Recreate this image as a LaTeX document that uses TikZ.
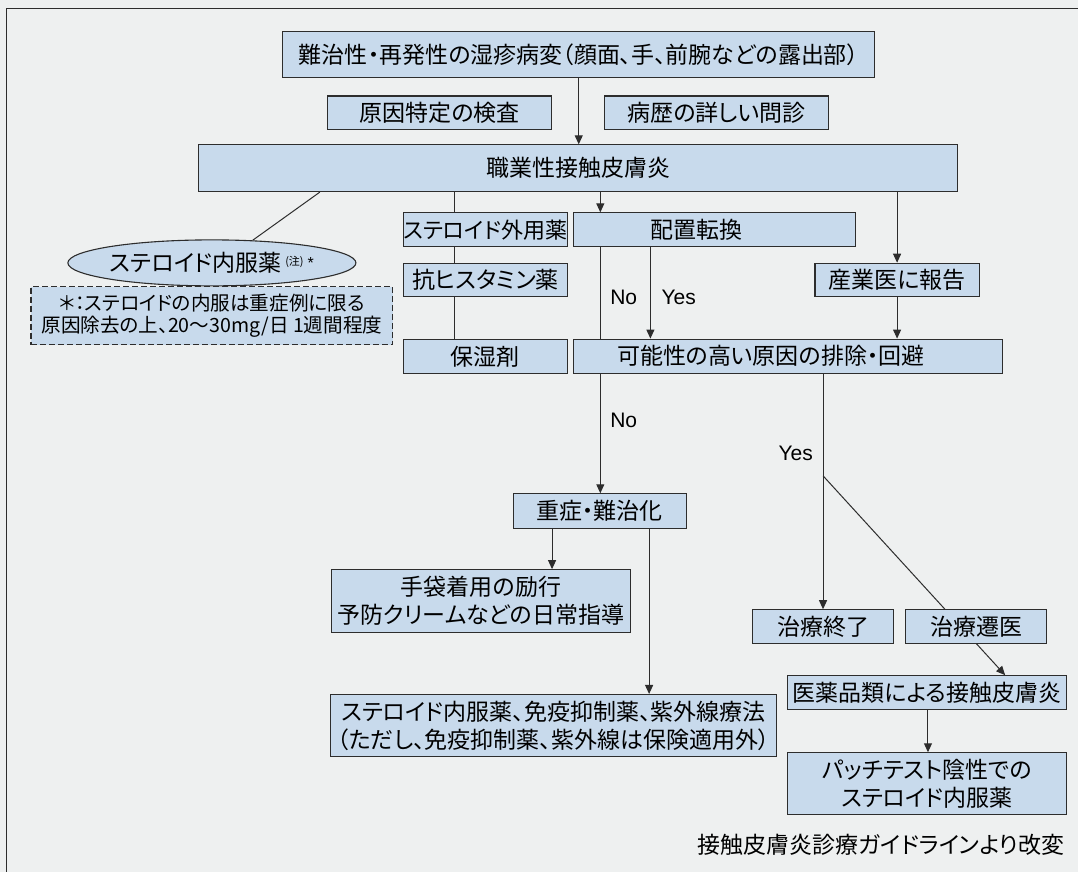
\documentclass[tikz,border=0pt]{standalone}
\usepackage{fontspec}
\setmainfont{Noto Sans CJK JP}[RawFeature=+palt]
\newfontfamily\latfont{Liberation Sans}
\usetikzlibrary{arrows.meta,shapes.geometric,calc}
\definecolor{pagebg}{RGB}{238,240,240}
\definecolor{boxblue}{RGB}{200,218,236}
\definecolor{ink}{RGB}{45,45,45}
\pgfdeclarelayer{back}
\pgfdeclarelayer{edges}
\pgfsetlayers{back,edges,main}
\tikzset{
  flowbox/.style={draw=ink, fill=boxblue, line width=1.1pt, inner sep=0pt, align=center,
    font=\fontsize{23}{28}\selectfont},
  sz/.style 2 args={minimum width=#1pt, minimum height=#2pt},
  conn/.style={draw=ink, line width=1pt},
  arr/.style={conn, -{Triangle[length=9pt,width=8pt]}},
  yn/.style={font=\latfont\fontsize{21}{21}\selectfont, text=black, inner sep=0pt},
}
\begin{document}
\begin{tikzpicture}[x=1pt,y=-1pt]
\begin{pgfonlayer}{back}
  \fill[pagebg] (0,0) rectangle (1078,872);
  \draw[ink, line width=1pt] (7,872) -- (7,8.5) -- (1078,8.5);
\end{pgfonlayer}
\useasboundingbox (0,0) rectangle (1078,872);

% column coordinates
\coordinate (cL) at (454.5,0);
\coordinate (cS) at (320,0);
\coordinate (cN) at (600.6,0);
\coordinate (cY) at (650.7,0);
\coordinate (cR) at (897.5,0);
\coordinate (cE) at (823.4,0);
\coordinate (cT) at (552.3,0);
\coordinate (cU) at (649.4,0);
\coordinate (cP) at (928.4,0);
\coordinate (cD) at (1005.6,0);

% boxes
\node[flowbox, sz={592}{45.6}] (top) at (579,54.5) {難治性・再発性の湿疹病変（顔面、手、前腕などの露出部）};
\node[flowbox, sz={224}{33.3}] (gen) at (440,112.7) {原因特定の検査};
\node[flowbox, sz={224}{33.3}] (reki) at (717,112.7) {病歴の詳しい問診};
\node[flowbox, sz={759}{46.7}] (shoku) at (578.5,168.3) {職業性接触皮膚炎};
\node[flowbox, sz={163.5}{34}, font=\fontsize{22}{22}\selectfont] (ster) at (485.7,230) {ステロイド外用薬};
\node[flowbox, sz={163.5}{33.4}] (kou) at (485.7,280) {抗ヒスタミン薬};
\node[flowbox, sz={163.5}{33.4}] (hos) at (485.7,356.6) {保湿剤};
\node[flowbox, sz={282.4}{34}] (hai) at (714.7,230) {配置転換\hspace{36pt}};
\node[flowbox, sz={164.3}{33.6}] (san) at (897.5,280.2) {産業医に報告};
\node[flowbox, sz={429.6}{34}] (kano) at (788.2,356.3) {可能性の高い原因の排除・回避\hspace{34pt}};
\node[draw=ink, fill=boxblue, ellipse, line width=1.1pt, minimum width=256pt, minimum height=46pt, inner sep=0pt] (oral) at (212,263)
  {\fontsize{23}{23}\selectfont ステロイド内服薬\,\raisebox{6pt}{\fontsize{11}{11}\selectfont (注)}\,\raisebox{3pt}{\latfont\fontsize{16}{16}\selectfont *}};
\node[flowbox, dashed, dash pattern=on 6pt off 3pt, sz={362}{58}, font=\fontsize{19.6}{22.7}\selectfont] (note) at (212,316)
  {＊：ステロイドの内服は重症例に限る\\原因除去の上、20～30mg/日 1週間程度};
\node[flowbox, sz={173.4}{34.3}] (ju) at (600,511.2) {重症・難治化};
\node[flowbox, sz={299}{62.7}] (tebu) at (481.2,601.3) {手袋着用の励行\\予防クリームなどの日常指導};
\node[flowbox, sz={446.4}{62.3}] (naifuku) at (553.8,726) {ステロイド内服薬、免疫抑制薬、紫外線療法\\（ただし、免疫抑制薬、紫外線は保険適用外）};
\node[flowbox, sz={141.2}{33.3}] (chiryo) at (823.4,626.7) {治療終了};
\node[flowbox, sz={141.5}{33.3}] (seni) at (976.5,626.7) {治療遷医};
\node[flowbox, sz={279}{34}] (iyaku) at (927.5,693) {医薬品類による接触皮膚炎};
\node[flowbox, sz={279}{61.7}] (patch) at (927.5,784) {パッチテスト陰性での\\ステロイド内服薬};
\node[anchor=east, inner sep=0pt, font=\fontsize{23}{23}\selectfont] (cap) at (1065,845) {接触皮膚炎診療ガイドラインより改変};

% labels
\node[yn] (no1) at (624,298) {No};
\node[yn] (yes1) at (679,298) {Yes};
\node[yn] (no2) at (624,421) {No};
\node[yn] (yes2) at (796,454) {Yes};

\coordinate (br) at (823.4,476);

% connectors
\begin{pgfonlayer}{edges}
  \draw[arr] (top.south) -- (top.south |- shoku.north);
  \draw[conn] (shoku.south -| cS) -- (oral.29);
  \draw[conn] (shoku.south -| cL) -- (hos.north -| cL);
  \draw[arr] (shoku.south -| cN) -- (hai.north -| cN);
  \draw[arr] (shoku.south -| cR) -- (san.north);
  \draw[conn] (hai.south -| cN) -- (kano.north -| cN);
  \draw[arr] (hai.south -| cY) -- (kano.north -| cY);
  \draw[arr] (san.south) -- (kano.north -| cR);
  \draw[arr] (kano.south -| cN) -- (ju.north -| cN);
  \draw[arr] (kano.south -| cE) -- (chiryo.north);
  \draw[arr] (br) -- (iyaku.north -| cD);
  \draw[arr] (ju.south -| cT) -- (tebu.north -| cT);
  \draw[arr] (ju.south -| cU) -- (naifuku.north -| cU);
  \draw[arr] (iyaku.south -| cP) -- (patch.north -| cP);
\end{pgfonlayer}
\end{tikzpicture}
\end{document}
